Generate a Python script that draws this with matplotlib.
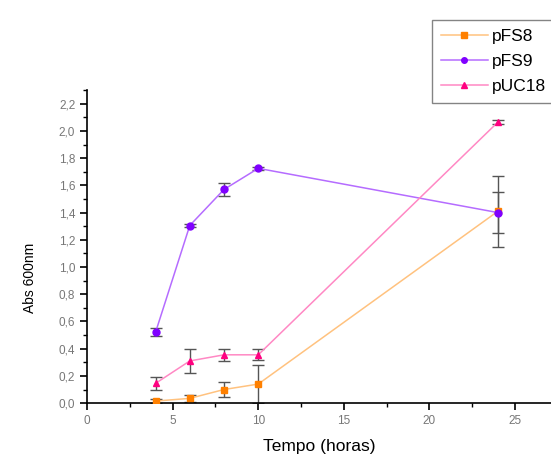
import matplotlib

matplotlib.use("Agg")
import matplotlib.pyplot as plt
from matplotlib.ticker import FuncFormatter, MultipleLocator

plt.rcParams["font.family"] = ["Liberation Sans", "DejaVu Sans"]

hours = [4, 6, 8, 10, 24]

pfs8 = [0.015, 0.035, 0.10, 0.14, 1.41]
pfs8_err = [0.012, 0.025, 0.055, 0.14, 0.26]

pfs9 = [0.52, 1.305, 1.57, 1.725, 1.40]
pfs9_err = [0.03, 0.012, 0.045, 0.012, 0.15]

puc18 = [0.145, 0.31, 0.355, 0.355, 2.065]
puc18_err = [0.05, 0.09, 0.045, 0.04, 0.012]

series = [
    ("pFS8", pfs8, pfs8_err, "s", "#ffc27f", "#ff8000"),
    ("pFS9", pfs9, pfs9_err, "o", "#b56cff", "#8000ff"),
    ("pUC18", puc18, puc18_err, "^", "#ff88c4", "#ff0080"),
]

fig = plt.figure(figsize=(5.51, 4.55), dpi=100)
ax = fig.add_axes([0.158, 0.114, 0.842, 0.688])

for name, y, err, mk, lc, mc in series:
    ax.errorbar(hours, y, yerr=err, fmt="none", ecolor="#555555",
                elinewidth=1.0, capsize=4.5, capthick=1.0, zorder=2)
    ax.plot(hours, y, color=lc, linewidth=1.1, marker=mk, markersize=5,
            markerfacecolor=mc, markeredgecolor=mc, label=name, zorder=3)

ax.set_xlim(0, 27.1)
ax.set_ylim(0, 2.3)
ax.xaxis.set_major_locator(MultipleLocator(5))
ax.xaxis.set_minor_locator(MultipleLocator(2.5))
ax.yaxis.set_major_locator(MultipleLocator(0.2))
ax.yaxis.set_minor_locator(MultipleLocator(0.1))
ax.yaxis.set_major_formatter(FuncFormatter(lambda v, p: f"{v:.1f}".replace(".", ",")))

for side in ("top", "right"):
    ax.spines[side].set_visible(False)
for side in ("left", "bottom"):
    ax.spines[side].set_linewidth(1.2)

ax.tick_params(which="major", direction="out", length=5, width=1.2,
               labelsize=8.5, labelcolor="#777777")
ax.tick_params(which="minor", direction="out", length=3, width=1.0)

ax.set_xlabel("Tempo (horas)", fontsize=12.5, labelpad=9)
ax.set_ylabel("Abs 600nm", fontsize=10)
ax.yaxis.set_label_coords(-0.108, 0.40)

# legend runs off the right edge, as in the original figure
leg = ax.legend(loc="upper left", bbox_to_anchor=(0.784, 0.956),
                bbox_transform=fig.transFigure, borderaxespad=0,
                fontsize=12.5, frameon=True, fancybox=False,
                edgecolor="#666666", handlelength=2.7, markerscale=0.8,
                borderpad=0.5, labelspacing=0.58, handletextpad=0.25)
leg.get_frame().set_linewidth(1.0)

fig.savefig("out.png", dpi=100)
